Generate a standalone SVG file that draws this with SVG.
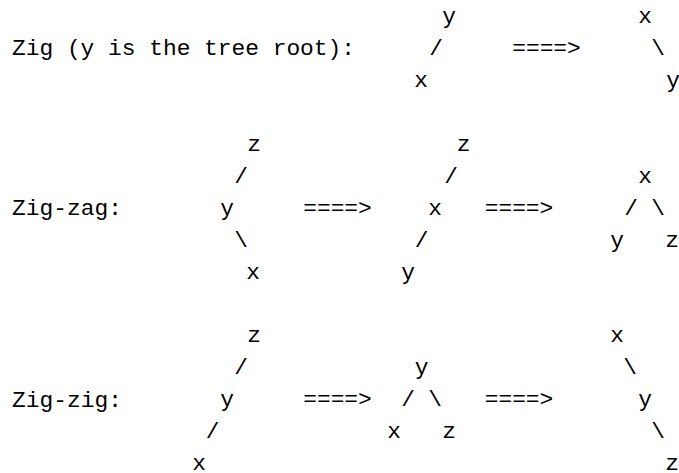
<svg xmlns="http://www.w3.org/2000/svg" width="679" height="473" viewBox="0 0 679 473">
<style>
text{font-family:"Liberation Mono","DejaVu Sans Mono",monospace;font-size:22.9px;fill:#000}
.n,.c{text-anchor:middle}
.l{text-anchor:start}
</style>
<rect width="679" height="473" fill="#fff"/>
<g id="labels">
<text class="l" x="12" y="55.2" textLength="343" lengthAdjust="spacing">Zig (y is the tree root):</text>
<text class="l" x="12" y="214.7" textLength="110" lengthAdjust="spacing">Zig-zag:</text>
<text class="l" x="12" y="406.5" textLength="110" lengthAdjust="spacing">Zig-zig:</text>
</g>
<g id="connectors">
<text class="c" x="436" y="55.2">/</text>
<text class="c" x="546.5" y="55.2">====&gt;</text>
<text class="c" x="658" y="55.2">\</text>
<text class="c" x="241" y="182.8">/</text>
<text class="c" x="451" y="182.8">/</text>
<text class="c" x="337.5" y="214.7">====&gt;</text>
<text class="c" x="519" y="214.7">====&gt;</text>
<text class="c" x="631" y="214.7">/</text>
<text class="c" x="658" y="214.7">\</text>
<text class="c" x="241" y="246.6">\</text>
<text class="c" x="421.5" y="246.6">/</text>
<text class="c" x="241" y="374.2">/</text>
<text class="c" x="630" y="374.2">\</text>
<text class="c" x="337.5" y="406.1">====&gt;</text>
<text class="c" x="408" y="406.1">/</text>
<text class="c" x="435" y="406.1">\</text>
<text class="c" x="519" y="406.1">====&gt;</text>
<text class="c" x="212.5" y="438">/</text>
<text class="c" x="658" y="438">\</text>
</g>
<g id="zig-before-y"><text class="n" x="449" y="23.3">y</text></g>
<g id="zig-before-x"><text class="n" x="421" y="87.1">x</text></g>
<g id="zig-after-x"><text class="n" x="645" y="23.3">x</text></g>
<g id="zig-after-y"><text class="n" x="673" y="87.1">y</text></g>
<g id="zigzag-1-z"><text class="n" x="254" y="150.9">z</text></g>
<g id="zigzag-1-y"><text class="n" x="227" y="214.7">y</text></g>
<g id="zigzag-1-x"><text class="n" x="253" y="278.5">x</text></g>
<g id="zigzag-2-z"><text class="n" x="463.5" y="150.9">z</text></g>
<g id="zigzag-2-x"><text class="n" x="435" y="214.7">x</text></g>
<g id="zigzag-2-y"><text class="n" x="408" y="278.5">y</text></g>
<g id="zigzag-3-x"><text class="n" x="645" y="182.8">x</text></g>
<g id="zigzag-3-y"><text class="n" x="617" y="246.6">y</text></g>
<g id="zigzag-3-z"><text class="n" x="672" y="246.6">z</text></g>
<g id="zigzig-1-z"><text class="n" x="254" y="342.3">z</text></g>
<g id="zigzig-1-y"><text class="n" x="227" y="406.1">y</text></g>
<g id="zigzig-1-x"><text class="n" x="199" y="469.9">x</text></g>
<g id="zigzig-2-y"><text class="n" x="421.5" y="374.2">y</text></g>
<g id="zigzig-2-x"><text class="n" x="394" y="438">x</text></g>
<g id="zigzig-2-z"><text class="n" x="449" y="438">z</text></g>
<g id="zigzig-3-x"><text class="n" x="617" y="342.3">x</text></g>
<g id="zigzig-3-y"><text class="n" x="645" y="406.1">y</text></g>
<g id="zigzig-3-z"><text class="n" x="672" y="469.9">z</text></g>
</svg>
